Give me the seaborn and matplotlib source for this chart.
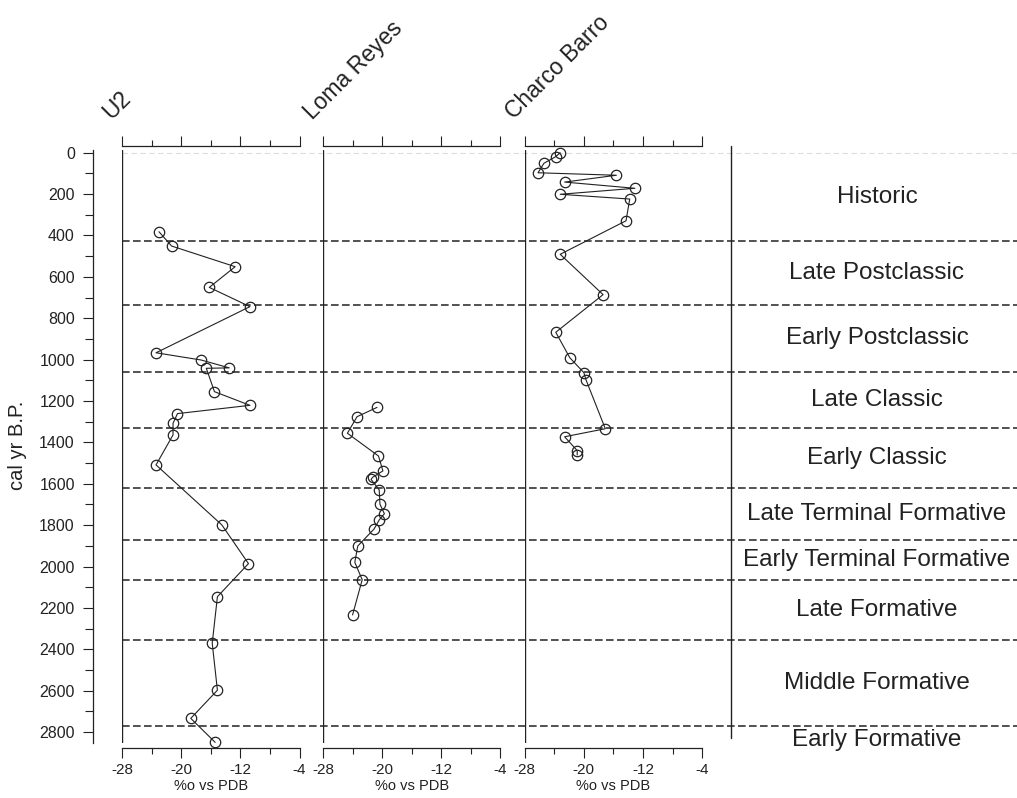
import matplotlib
matplotlib.use("Agg")
import matplotlib.pyplot as plt
import pandas as pd
import seaborn as sns

# --- data ---
sites = ["U2", "Loma Reyes", "Charco Barro"]

u2_year = [382, 451, 551, 651, 744, 967, 1002, 1040, 1042, 1155, 1221, 1261,
           1308, 1364, 1509, 1799, 1986, 2146, 2371, 2598, 2734, 2850]
u2_d13c = [-23.0, -21.3, -12.7, -16.2, -10.7, -23.4, -17.3, -13.5, -16.6, -15.5,
           -10.7, -20.5, -21.1, -21.1, -23.4, -14.5, -10.9, -15.1, -15.8, -15.1,
           -18.7, -15.4]

loma_year = [1231, 1276, 1356, 1466, 1538, 1569, 1579, 1630, 1699, 1745, 1775,
             1819, 1901, 1980, 2064, 2234]
loma_d13c = [-20.7, -23.4, -24.7, -20.5, -19.9, -21.3, -21.5, -20.4, -20.3, -19.7,
             -20.4, -21.1, -23.3, -23.7, -22.7, -24.0]

charco_year = [0, 19, 51, 97, 109, 142, 172, 201, 224, 329, 491, 686, 868, 991,
               1063, 1099, 1334, 1373, 1440, 1461]
charco_d13c = [-23.2, -23.8, -25.4, -26.2, -15.6, -22.6, -13.1, -23.2, -13.8,
               -14.3, -23.2, -17.4, -23.8, -21.9, -20.0, -19.7, -17.1, -22.6,
               -20.9, -20.9]

period_bounds = [425, 735, 1060, 1330, 1620, 1870, 2065, 2355, 2770]
period_names = ["Historic", "Late Postclassic", "Early Postclassic", "Late Classic",
                "Early Classic", "Late Terminal Formative", "Early Terminal Formative",
                "Late Formative", "Middle Formative", "Early Formative"]
period_edges = [0] + period_bounds + [2910]

x_major = [-28, -20, -12, -4]
x_minor = [-24, -16, -8]

# --- layout (pixels) ---
W, H = 1017, 798
INK = "#222222"
Y0, KY = 152.7, 0.2069          # pixel of year 0, pixels per year
TOP, BOT = 150, 743


def px2yr(p):
    return (p - Y0) / KY


def rect(x0, y0, x1, y1):
    return [x0 / W, 1 - y1 / H, (x1 - x0) / W, (y1 - y0) / H]


sns.set_theme(style="ticks")
plt.rcParams["font.family"] = ["Liberation Sans", "DejaVu Sans"]
plt.rcParams["text.color"] = INK
plt.rcParams["axes.unicode_minus"] = False

fig = plt.figure(figsize=(W / 100, H / 100), dpi=100)

# background: period boundaries and labels
bg = fig.add_axes(rect(122, TOP, W, BOT))
bg.set_xlim(122, W)
bg.set_ylim(px2yr(BOT), px2yr(TOP))
bg.axis("off")
bg.axhline(0, color="#dddddd", lw=0.8, ls=(0, (5, 3)))
for b in period_bounds:
    bg.axhline(b, color=INK, lw=1.1, ls=(0, (5, 2.2)))
bg.plot([731, 731], [px2yr(146), px2yr(738)], color=INK, lw=1, clip_on=False)
for name, a, b in zip(period_names, period_edges[:-1], period_edges[1:]):
    bg.text(877, (a + b) / 2, name, ha="center", va="center", fontsize=17.5,
            clip_on=False)

panels = [(u2_year, u2_d13c, 122), (loma_year, loma_d13c, 323),
          (charco_year, charco_d13c, 524.7)]

for i, (name, (yrs, vals, x0)) in enumerate(zip(sites, panels)):
    ax = fig.add_axes(rect(x0, TOP, x0 + 177.5, BOT))
    ax.patch.set_alpha(0)
    df = pd.DataFrame({"d13c": vals, "year": yrs})
    sns.lineplot(data=df, x="d13c", y="year", sort=False, estimator=None, ax=ax,
                 color=INK, lw=0.8, marker="o", ms=7.5, mfc="none", mec=INK,
                 mew=0.9, clip_on=False)
    ax.set_xlim(-28, -4)
    ax.set_ylim(px2yr(BOT), px2yr(TOP))
    ax.axvline(-28, color=INK, lw=1)

    ax.spines["right"].set_visible(False)
    ax.spines["top"].set_position(("outward", 3))
    ax.spines["bottom"].set_position(("outward", 3.6))
    for s in ["top", "bottom", "left"]:
        ax.spines[s].set_color(INK)
        ax.spines[s].set_linewidth(0.9)

    ax.set_xticks(x_major)
    ax.set_xticks(x_minor, minor=True)
    ax.tick_params(axis="x", which="both", top=True, bottom=True, direction="out",
                   color=INK, labelcolor=INK, labelsize=11, width=0.8, pad=4)
    ax.tick_params(axis="x", which="major", length=7)
    ax.tick_params(axis="x", which="minor", length=4.5)
    ax.set_xlabel("%o vs PDB", fontsize=10.5, labelpad=1, color=INK)
    ax.set_ylabel("")

    if i == 0:
        ax.spines["left"].set_position(("outward", 21))
        ax.set_yticks(range(0, 2801, 200))
        ax.set_yticks(range(100, 2800, 200), minor=True)
        ax.tick_params(axis="y", which="both", left=True, direction="out",
                       color=INK, labelcolor=INK, labelsize=11.5, width=0.8, pad=6)
        ax.tick_params(axis="y", which="major", length=7)
        ax.tick_params(axis="y", which="minor", length=5.5)
    else:
        ax.spines["left"].set_visible(False)
        ax.set_yticks([])

    fig.text((x0 - 11) / W, 1 - 120 / H, name, rotation=45, rotation_mode="anchor",
             ha="left", va="baseline", fontsize=16.5)

fig.text(18 / W, 1 - 445 / H, "cal yr B.P.", rotation=90, ha="center", va="center",
         fontsize=14.5)

fig.savefig("out.png", dpi=100)
